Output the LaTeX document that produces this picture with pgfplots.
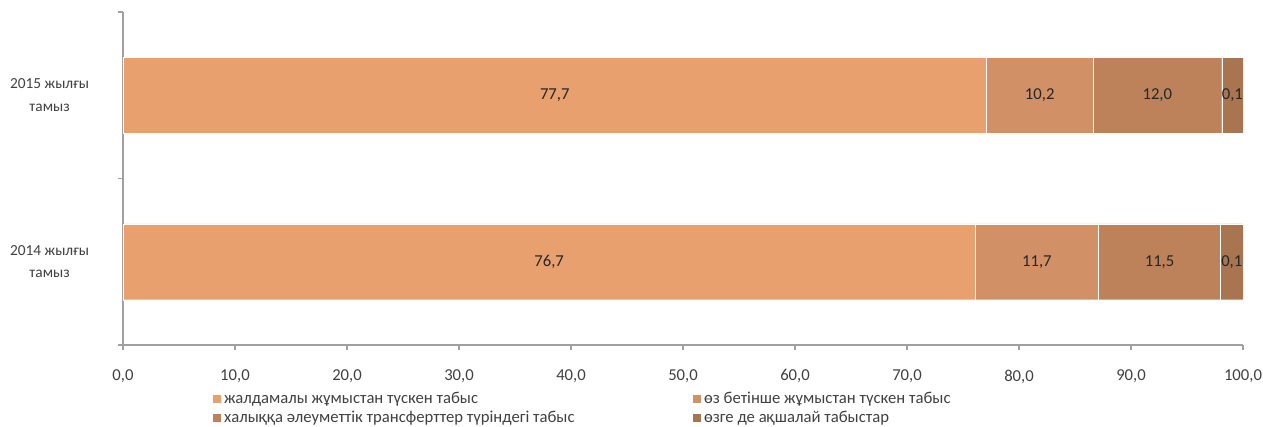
\documentclass[border=0pt]{standalone}
\usepackage{fontspec}
\setmainfont{Carlito}
\usepackage{pgfplots}
\pgfplotsset{compat=1.18}
\definecolor{sA}{RGB}{232,160,110}
\definecolor{sB}{RGB}{209,144,102}
\definecolor{sC}{RGB}{189,130,90}
\definecolor{sD}{RGB}{168,117,80}
\definecolor{axgray}{RGB}{160,160,160}
\definecolor{txt}{RGB}{64,64,64}
\begin{document}
\begin{tikzpicture}[x=1pt,y=1pt]
\path[use as bounding box] (-92.25,-61.5) rectangle (855,258.75);
\begin{axis}[
  at={(0,0)}, anchor=south west,
  scale only axis,
  width=840pt, height=249.75pt,
  xbar stacked,
  bar width=0.456,
  xmin=0, xmax=100,
  ymin=-0.5, ymax=1.5,
  xtick={0,10,...,100},
  ytick={-0.5,0.5,1.5},
  yticklabels={},
  extra y ticks={0,1},
  extra y tick labels={{2014 жылғы\\тамыз},{2015 жылғы\\тамыз}},
  extra y tick style={major tick length=0pt,
    yticklabel style={align=center, anchor=center, xshift=-55pt,
      font=\fontsize{11.5}{17}\selectfont}},
  axis x line*=bottom, axis y line*=left,
  axis line style={axgray, line width=0.9pt},
  tick style={axgray, line width=0.9pt},
  tick align=outside, major tick length=4pt,
  /pgf/number format/.cd, fixed, fixed zerofill, precision=1, use comma, assume math mode=true,
  /pgfplots/.cd,
  xticklabel style={font=\fontsize{12.5}{14}\selectfont, text=txt, yshift=-11pt},
  yticklabel style={text=txt},
  point meta=explicit symbolic,
  nodes near coords,
  every node near coord/.append style={font=\fontsize{12.5}{14}\selectfont, text=black!85},
  legend columns=2,
  legend cell align=left,
  legend style={at={(0.078,-0.128)}, anchor=north west, draw=none, fill=none,
    font=\fontsize{12.5}{13}\selectfont, text=txt,
    /tikz/every even column/.append style={column sep=86pt},
    row sep=0.3pt, inner sep=1pt},
  legend image code/.code={\fill[#1] (0pt,-3.4pt) rectangle (6.8pt,3.4pt);},
]
\addplot[fill=sA, draw=white, line width=0.3pt] coordinates {(76.1,0) [76,7] (77.1,1) [77,7]};
\addplot[fill=sB, draw=white, line width=0.3pt] coordinates {(11.0,0) [11,7] (9.5,1) [10,2]};
\addplot[fill=sC, draw=white, line width=0.3pt] coordinates {(10.9,0) [11,5] (11.5,1) [12,0]};
\addplot[fill=sD, draw=white, line width=0.3pt] coordinates {(2.0,0) [0,1] (1.9,1) [0,1]};
\legend{жалдамалы жұмыстан түскен табыс, өз бетінше жұмыстан түскен табыс,
  халыққа әлеуметтік трансферттер түріндегі табыс, өзге де ақшалай табыстар}
\end{axis}
\end{tikzpicture}
\end{document}
